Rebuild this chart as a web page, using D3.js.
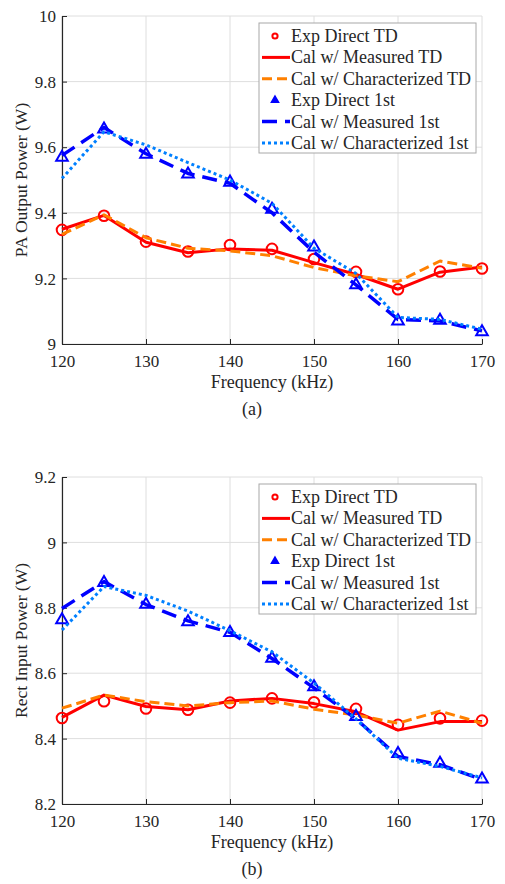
<!DOCTYPE html>
<html>
<head>
<meta charset="utf-8">
<script src="https://cdn.jsdelivr.net/npm/d3@7"></script>
<style>
  html, body { margin: 0; padding: 0; background: #fff; }
  svg { display: block; }
  svg text { font-family: "Liberation Serif", "Times New Roman", Times, serif !important; fill: #262626; }
</style>
</head>
<body>
<svg id="chart" width="505" height="884"></svg>
<script>
// ---------------- DATA ----------------
const freq = [120, 125, 130, 135, 140, 145, 150, 155, 160, 165, 170];

const seriesNames = [
  "Exp Direct TD",
  "Cal w/ Measured TD",
  "Cal w/ Characterized TD",
  "Exp Direct 1st",
  "Cal w/ Measured 1st",
  "Cal w/ Characterized 1st"
];

// Panel (a): PA Output Power (W)
const paExpTD      = [9.348, 9.391, 9.312, 9.282, 9.302, 9.290, 9.259, 9.220, 9.167, 9.221, 9.230];
const paCalMeasTD  = [9.350, 9.392, 9.310, 9.278, 9.290, 9.286, 9.248, 9.212, 9.167, 9.219, 9.235];
const paCalCharTD  = [9.334, 9.394, 9.324, 9.292, 9.284, 9.269, 9.233, 9.208, 9.190, 9.253, 9.231];
const paExp1st     = [9.569, 9.655, 9.578, 9.518, 9.493, 9.410, 9.295, 9.180, 9.070, 9.072, 9.037];
const paCalMeas1st = [9.575, 9.660, 9.580, 9.520, 9.490, 9.400, 9.280, 9.180, 9.075, 9.070, 9.040];
const paCalChar1st = [9.505, 9.647, 9.607, 9.553, 9.500, 9.429, 9.292, 9.215, 9.081, 9.075, 9.045];

// Panel (b): Rect Input Power (W)
const rcExpTD      = [8.463, 8.514, 8.492, 8.488, 8.510, 8.523, 8.511, 8.491, 8.442, 8.462, 8.455];
const rcCalMeasTD  = [8.465, 8.533, 8.498, 8.488, 8.515, 8.523, 8.507, 8.482, 8.426, 8.452, 8.452];
const rcCalCharTD  = [8.493, 8.533, 8.513, 8.500, 8.510, 8.515, 8.490, 8.472, 8.447, 8.484, 8.447];
const rcExp1st     = [8.763, 8.877, 8.810, 8.757, 8.724, 8.645, 8.558, 8.467, 8.354, 8.324, 8.276];
const rcCalMeas1st = [8.798, 8.880, 8.810, 8.760, 8.725, 8.645, 8.555, 8.460, 8.345, 8.320, 8.275];
const rcCalChar1st = [8.732, 8.865, 8.838, 8.790, 8.730, 8.665, 8.570, 8.460, 8.340, 8.315, 8.280];

const xTicks = [120, 130, 140, 150, 160, 170];
const paYTicks = [9, 9.2, 9.4, 9.6, 9.8, 10];
const rcYTicks = [8.2, 8.4, 8.6, 8.8, 9, 9.2];

// ---------------- STYLES ----------------
const FONT = "Liberation Serif, Times New Roman, Times, serif";
const styles = [
  { kind: "circle",   color: "#ff0000" },
  { kind: "line",     color: "#ff0000", width: 3,   dash: null },
  { kind: "line",     color: "#ff8000", width: 3,   dash: "10,5" },
  { kind: "triangle", color: "#0000ff" },
  { kind: "line",     color: "#0000ff", width: 3.5, dash: "15,8" },
  { kind: "line",     color: "#0080ff", width: 3,   dash: "3,3" }
];

const svg = d3.select("#chart");

function drawPanel(cfg) {
  const { top, bottom, left, right, yDomain, yTicks, yLabel, caption, data, legendTop } = cfg;
  const x = d3.scaleLinear().domain([120, 170]).range([left, right]);
  const y = d3.scaleLinear().domain(yDomain).range([bottom, top]);
  const g = svg.append("g").attr("font-family", FONT);

  // grid
  g.append("g").selectAll("line").data(xTicks).join("line")
    .attr("x1", d => x(d)).attr("x2", d => x(d))
    .attr("y1", top).attr("y2", bottom)
    .attr("stroke", "#dedede").attr("stroke-width", 1);
  g.append("g").selectAll("line").data(yTicks).join("line")
    .attr("x1", left).attr("x2", right)
    .attr("y1", d => y(d)).attr("y2", d => y(d))
    .attr("stroke", "#dedede").attr("stroke-width", 1);

  // axes
  const xAxis = d3.axisBottom(x).tickValues(xTicks).tickSizeInner(-5).tickSizeOuter(0).tickPadding(9)
    .tickFormat(d3.format("d"));
  const yAxis = d3.axisLeft(y).tickValues(yTicks).tickSizeInner(-5).tickSizeOuter(0).tickPadding(6)
    .tickFormat(d => d3.format("~g")(d));
  const gx = g.append("g").attr("transform", `translate(0,${bottom})`).call(xAxis);
  const gy = g.append("g").attr("transform", `translate(${left},0)`).call(yAxis);
  [gx, gy].forEach(a => {
    a.attr("font-family", FONT).attr("font-size", 17);
    a.select(".domain").attr("stroke", "#262626").attr("stroke-width", 1.2);
    a.selectAll(".tick line").attr("stroke", "#262626");
    a.selectAll(".tick text").attr("font-family", FONT).attr("font-size", 17).attr("fill", "#262626");
  });
  gx.selectAll(".tick text").attr("dy", "14px");
  gy.selectAll(".tick text").attr("dy", "0.33em");

  // labels
  g.append("text").attr("x", (left + right) / 2).attr("y", bottom + 44)
    .attr("text-anchor", "middle").attr("font-size", 18).text("Frequency (kHz)");
  g.append("text").attr("transform", `translate(${left - 35},${(top + bottom) / 2}) rotate(-90)`)
    .attr("text-anchor", "middle").attr("font-size", 17.5).text(yLabel);
  g.append("text").attr("x", (left + right) / 2 - 20).attr("y", bottom + 71)
    .attr("text-anchor", "middle").attr("font-size", 18).text(caption);

  // series
  data.forEach((vals, i) => {
    const st = styles[i];
    const pts = freq.map((f, j) => [x(f), y(vals[j])]);
    if (st.kind === "line") {
      g.append("path").attr("d", d3.line()(pts))
        .attr("fill", "none").attr("stroke", st.color).attr("stroke-width", st.width)
        .attr("stroke-dasharray", st.dash).attr("stroke-linejoin", "round");
    } else if (st.kind === "circle") {
      g.append("g").selectAll("circle").data(pts).join("circle")
        .attr("cx", d => d[0]).attr("cy", d => d[1]).attr("r", 5.3)
        .attr("fill", "none").attr("stroke", st.color).attr("stroke-width", 2);
    } else {
      const tri = d3.symbol().type(d3.symbolTriangle).size(58);
      g.append("g").selectAll("path").data(pts).join("path")
        .attr("transform", d => `translate(${d[0]},${d[1]})`).attr("d", tri)
        .attr("fill", "none").attr("stroke", st.color).attr("stroke-width", 2);
    }
  });

  // legend
  const lx = 259, lw = 217, lh = 130;
  const lg = g.append("g").attr("transform", `translate(${lx},${legendTop})`);
  lg.append("rect").attr("width", lw).attr("height", lh)
    .attr("fill", "#fff").attr("stroke", "#a8a8a8").attr("stroke-width", 1);
  seriesNames.forEach((name, i) => {
    const st = styles[i];
    const cy = 13 + i * 21.4;
    if (st.kind === "line") {
      lg.append("line").attr("x1", 3).attr("x2", 31).attr("y1", cy).attr("y2", cy)
        .attr("stroke", st.color).attr("stroke-width", st.width).attr("stroke-dasharray", st.dash);
    } else if (st.kind === "circle") {
      lg.append("circle").attr("cx", 16).attr("cy", cy).attr("r", 2.6)
        .attr("fill", "none").attr("stroke", st.color).attr("stroke-width", 2);
    } else {
      lg.append("path").attr("transform", `translate(16,${cy})`)
        .attr("d", d3.symbol().type(d3.symbolTriangle).size(22))
        .attr("fill", st.color).attr("stroke", st.color).attr("stroke-width", 1.5);
    }
    lg.append("text").attr("x", 32).attr("y", cy).attr("dy", "0.33em")
      .attr("font-size", 18).text(name);
  });
}

drawPanel({
  top: 16, bottom: 344, left: 62, right: 482,
  yDomain: [9, 10], yTicks: paYTicks, yLabel: "PA Output Power (W)", caption: "(a)",
  data: [paExpTD, paCalMeasTD, paCalCharTD, paExp1st, paCalMeas1st, paCalChar1st],
  legendTop: 23
});
drawPanel({
  top: 477, bottom: 804, left: 62, right: 482,
  yDomain: [8.2, 9.2], yTicks: rcYTicks, yLabel: "Rect Input Power (W)", caption: "(b)",
  data: [rcExpTD, rcCalMeasTD, rcCalCharTD, rcExp1st, rcCalMeas1st, rcCalChar1st],
  legendTop: 484
});
</script>
</body>
</html>
